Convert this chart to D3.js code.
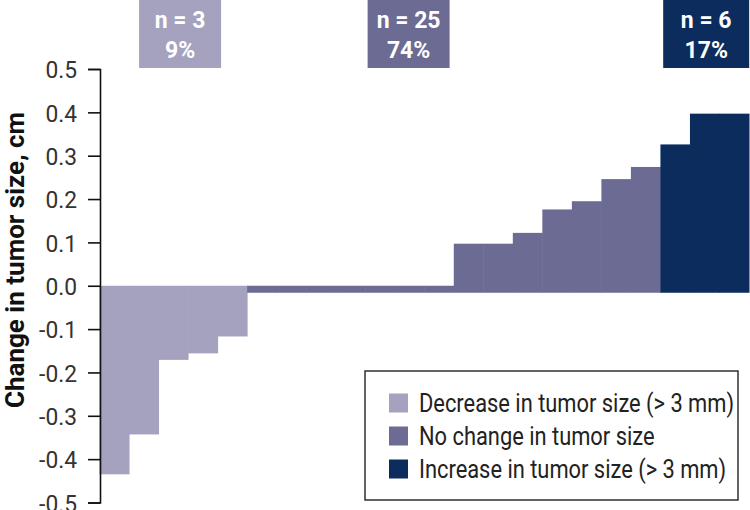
<!DOCTYPE html>
<html><head><meta charset="utf-8">
<script src="https://cdn.jsdelivr.net/npm/d3@7"></script>
<style>
html,body{margin:0;padding:0;background:#fff;}
svg{display:block;}
text{font-family:"Roboto","Liberation Sans",sans-serif;}
</style></head>
<body><svg id="chart" width="750" height="510"></svg>
<script>
// ---- data ----
const changeValues = [-0.435, -0.343, -0.171, -0.156, -0.117,
  0, 0, 0, 0, 0, 0, 0,
  0.097, 0.097, 0.122, 0.176, 0.195, 0.246, 0.274,
  0.326, 0.397, 0.397];
const changeGroups = ["dec","dec","dec","dec","dec",
  "nc","nc","nc","nc","nc","nc","nc",
  "nc","nc","nc","nc","nc","nc","nc",
  "inc","inc","inc"];
const groupKeys = ["dec","nc","inc"];
const groupNames = ["Decrease in tumor size (> 3 mm)", "No change in tumor size", "Increase in tumor size (> 3 mm)"];
const groupCounts = ["n = 3", "n = 25", "n = 6"];
const groupPercents = ["9%", "74%", "17%"];
const yTicks = [0.5, 0.4, 0.3, 0.2, 0.1, 0.0, -0.1, -0.2, -0.3, -0.4, -0.5];
const yTitle = "Change in tumor size, cm";

// ---- layout ----
const colors = {dec:"#a4a2bf", nc:"#6c6b93", inc:"#0c2c5d"};
const svg = d3.select("#chart");
const mLeft = 100, mRight = 749, mTop = 69, mBottom = 502.5;

// horizontal scaling of text glyphs around their anchor (condensed look)
function condense(sel, f){
  sel.each(function(){
    const xx = +(this.getAttribute("x") || 0);
    const t = this.getAttribute("transform") || "";
    this.setAttribute("transform", `${t} translate(${xx},0) scale(${f},1) translate(${-xx},0)`);
  });
}

const x = d3.scaleBand().domain(d3.range(changeValues.length)).range([mLeft-0.5, mRight]).padding(0);
const y = d3.scaleLinear().domain([-0.5, 0.5]).range([mBottom, mTop]);
const stub = 7;

// bars
svg.append("g").selectAll("rect").data(changeValues).join("rect")
  .attr("x", (d,i) => x(i))
  .attr("width", x.bandwidth() + 0.5)
  .attr("y", d => d < 0 ? y(0) : y(d))
  .attr("height", d => d < 0 ? y(d) - y(0) : y(0) - y(d) + stub)
  .attr("fill", (d,i) => colors[changeGroups[i]]);

// axis
const fmt = d3.format(".1f");
const axis = d3.axisLeft(y).tickValues(yTicks).tickSize(12).tickSizeOuter(12)
  .tickPadding(11).tickFormat(d => fmt(d).replace("\u2212","-"));
const ag = svg.append("g").attr("transform", `translate(${mLeft},0)`).call(axis);
ag.select(".domain").attr("stroke","#111").attr("stroke-width",1.6);
ag.selectAll(".tick line").attr("stroke","#111").attr("stroke-width",1.6);
ag.selectAll(".tick text").attr("font-size",24).attr("font-family","Roboto").attr("fill","#333").attr("dy","0.36em")
  .call(condense, 0.95);

// y title
svg.append("text")
  .attr("transform", `translate(24,${260}) rotate(-90)`)
  .attr("text-anchor","middle")
  .attr("font-size",26).attr("font-weight","bold").attr("fill","#111")
  .text(yTitle).call(condense, 1.0);

// top annotation boxes (positioned in bar units)
const boxAnchor = [2.73, 10.47, 20.55];
const boxWidth = [82, 82, 86];
const xu = d3.scaleLinear().domain([0, changeValues.length]).range([mLeft-0.5, mRight]);
const bg = svg.append("g").selectAll("g").data(groupKeys).join("g")
  .attr("transform", (d,i) => `translate(${xu(boxAnchor[i])},0)`);
bg.append("rect").attr("x",(d,i)=>-boxWidth[i]/2).attr("y",0)
  .attr("width",(d,i)=>boxWidth[i]).attr("height",68).attr("fill",d=>colors[d]);
bg.append("text").attr("y",28).attr("text-anchor","middle").attr("font-size",23)
  .attr("font-weight","bold").attr("fill","#fff").text((d,i)=>groupCounts[i]);
bg.append("text").attr("y",57.5).attr("text-anchor","middle").attr("font-size",23)
  .attr("font-weight","bold").attr("fill","#fff").text((d,i)=>groupPercents[i]);

// legend
const lg = svg.append("g").attr("transform","translate(365,371)");
lg.append("rect").attr("width",373).attr("height",129).attr("fill","#fff")
  .attr("stroke","#222").attr("stroke-width",1.4);
const li = lg.selectAll("g.item").data(groupKeys).join("g").attr("class","item")
  .attr("transform",(d,i)=>`translate(24,${32 + i*33})`);
li.append("rect").attr("y",-9.5).attr("width",19).attr("height",19).attr("fill",d=>colors[d]);
li.append("text").attr("x",30).attr("dy","0.36em").attr("font-size",25).attr("fill","#222")
  .text((d,i)=>groupNames[i]).call(condense, 0.875);
</script></body></html>
